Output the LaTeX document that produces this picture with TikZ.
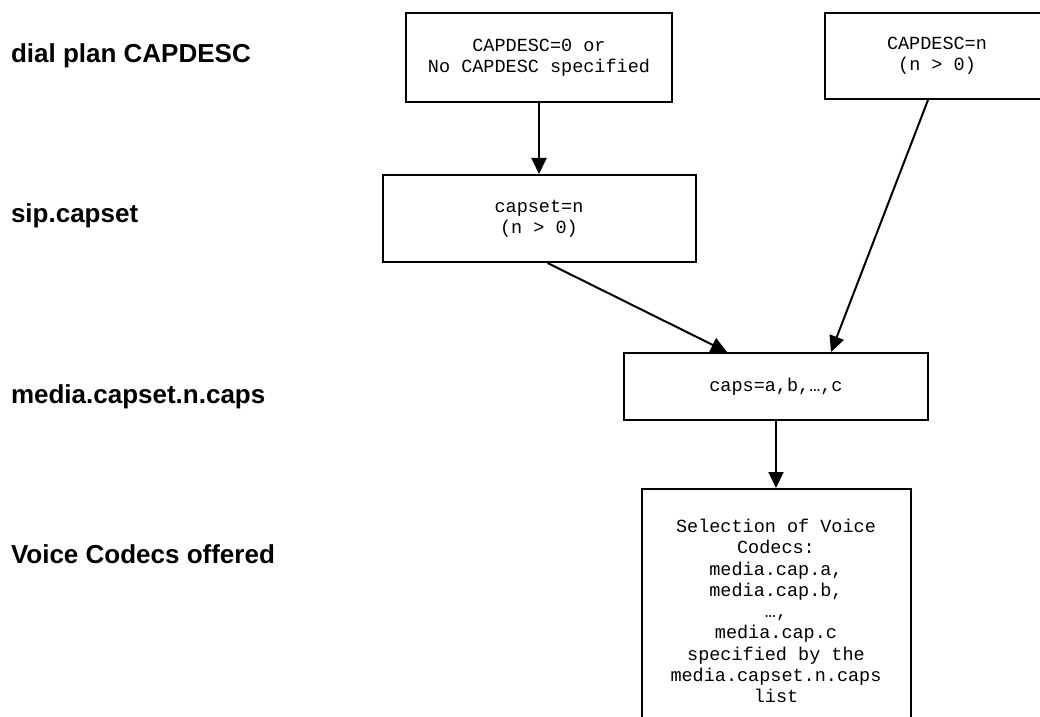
\documentclass[tikz,border=0pt]{standalone}
\usepackage{fontspec}
\setmainfont{Liberation Sans}
\setmonofont{Liberation Mono}
\usetikzlibrary{positioning}
\usetikzlibrary{arrows.meta}

\begin{document}
\begin{tikzpicture} [x=0.5pt, y=-0.5pt, line width=1pt, >={Triangle[length=8pt,width=7.5pt]},
    box/.style = {draw, align=center, inner sep=0pt, font=\ttfamily\fontsize{9.25}{10.65}\selectfont},
    lbl/.style = {anchor=base west, inner sep=0pt, font=\bfseries\fontsize{13}{15}\selectfont}]
        \useasboundingbox (0,0) rectangle (1040,717);

        %Ebenen
        \node[lbl] (lplan) at (10,63) {dial plan CAPDESC};
        \node[lbl] (lsip) at (10,222) {sip.capset};
        \node[lbl] (lmedia) at (10,403) {media.capset.n.caps};
        \node[lbl] (lvoice) at (10,563) {Voice Codecs offered};

        %Kaesten
        \node[box, minimum width=133pt, minimum height=44.5pt] (cap0) at (539,57.5) {CAPDESC=0 or\\No CAPDESC specified};
        \node[box, minimum width=112pt, minimum height=43pt] (capn) at (937,56) {CAPDESC=n\\(n > 0)};

        \node[box, minimum width=156.5pt, minimum height=43.5pt] (capset) [below = 35.5pt of cap0] {capset=n\\(n > 0)};

        \node[box, minimum width=152pt, minimum height=33.5pt] (caps) at (776,386.5) {caps=a,b,…,c};
        \node[box, minimum width=134.5pt, minimum height=122pt] (codecs) [below = 33.5pt of caps] {Selection of Voice\\Codecs:\\media.cap.a,\\media.cap.b,\\…,\\media.cap.c\\specified by the\\media.capset.n.caps\\list};

        %Kanten
        \draw[->] (cap0) -- (capset);
        \draw[->] ([xshift=4.25pt]capset.south) -- ([xshift=-24.5pt]caps.north);
        \draw[->] ([xshift=-4.5pt]capn.south) -- ([xshift=27.5pt]caps.north);
        \draw[->] (caps) -- (codecs);

\end{tikzpicture}
\end{document}
